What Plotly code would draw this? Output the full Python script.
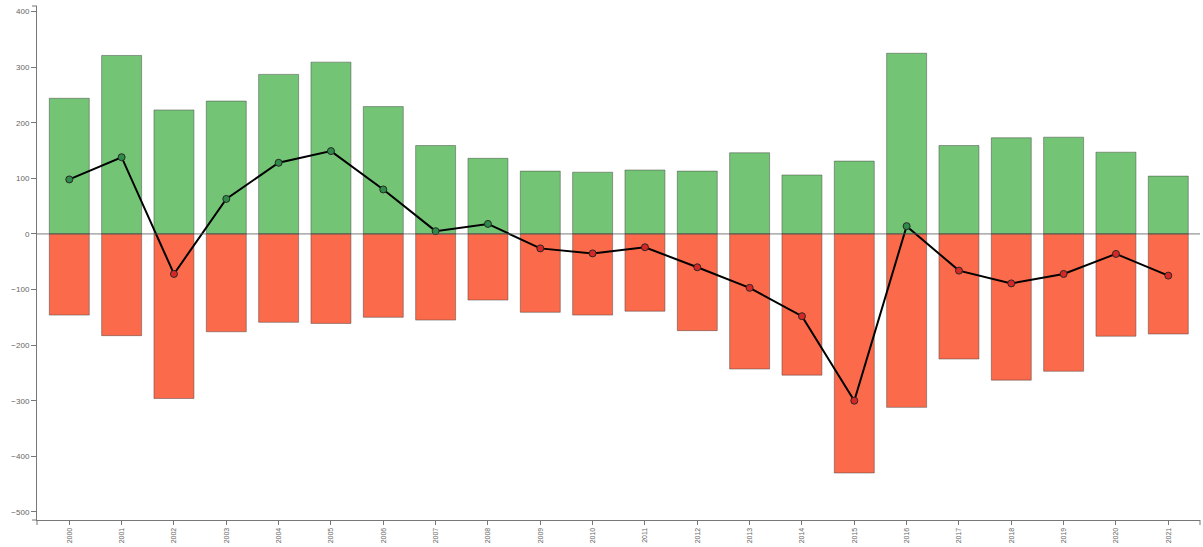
import plotly.graph_objects as go

years = [str(y) for y in range(2000, 2022)]
positive = [244, 321, 223, 239, 287, 309, 229, 159, 136, 113, 111, 115, 113, 146, 106, 131, 325, 159, 173, 174, 147, 104]
negative = [-146, -183, -296, -176, -159, -161, -150, -155, -119, -141, -146, -139, -174, -243, -254, -430, -312, -225, -263, -247, -184, -180]
net = [98, 138, -72, 63, 128, 149, 80, 5, 18, -26, -35, -24, -60, -97, -148, -300, 14, -66, -89, -72, -36, -75]
y_ticks = [-500, -400, -300, -200, -100, 0, 100, 200, 300, 400]

GREEN = "rgb(116,196,118)"
RED = "rgb(251,106,74)"
marker_colors = ["rgb(46,139,72)" if v >= 0 else "rgb(215,38,38)" for v in net]

fig = go.Figure()
fig.add_trace(go.Bar(x=years, y=positive, width=0.764, marker=dict(color=GREEN, line=dict(color="rgba(60,60,60,0.45)", width=1)), showlegend=False))
fig.add_trace(go.Bar(x=years, y=negative, width=0.764, marker=dict(color=RED, line=dict(color="rgba(60,60,60,0.45)", width=1)), showlegend=False))
fig.add_trace(go.Scatter(x=years, y=net, mode="lines+markers",
                         line=dict(color="black", width=2),
                         marker=dict(size=7, color=marker_colors, line=dict(color="rgb(40,40,40)", width=1)),
                         showlegend=False))

fig.add_shape(type="line", xref="paper", yref="y", x0=0, x1=1, y0=0, y1=0,
              line=dict(color="rgba(90,90,90,0.8)", width=1), layer="above")

# outer end ticks of the axis domains (d3 style)
axis_line = dict(color="#777", width=1)
for xa in (0, 1):
    fig.add_shape(type="line", xref="paper", yref="paper", ysizemode="pixel", yanchor=0,
                  x0=xa, x1=xa, y0=0, y1=-5, line=axis_line)
for ya in (0, 1):
    fig.add_shape(type="line", xref="paper", yref="paper", xsizemode="pixel", xanchor=0,
                  x0=0, x1=-5, y0=ya, y1=ya, line=axis_line)

fig.update_layout(
    width=1203, height=547,
    margin=dict(l=37, r=3, t=6, b=27, autoexpand=False),
    barmode="overlay",
    plot_bgcolor="white", paper_bgcolor="white",
    font=dict(family="Liberation Sans, Arial, sans-serif", size=8, color="#666"),
)
fig.update_xaxes(type="category", range=[-0.617, 21.606], showgrid=False, zeroline=False,
                 automargin=False,
                 showline=True, linecolor="#777", linewidth=1,
                 ticks="outside", ticklen=4, tickcolor="#777", tickangle=-90,
                 tickfont=dict(size=7, color="#666"))
fig.update_yaxes(range=[-514.6, 410], tickvals=y_ticks, showgrid=False, zeroline=False,
                 automargin=False,
                 showline=True, linecolor="#777", linewidth=1,
                 ticks="outside", ticklen=5, tickcolor="#777",
                 tickfont=dict(size=8, color="#666"))

fig.write_html("out.html", config={"displayModeBar": False},
               post_script="document.body.style.margin='0';document.body.style.overflow='hidden';")
